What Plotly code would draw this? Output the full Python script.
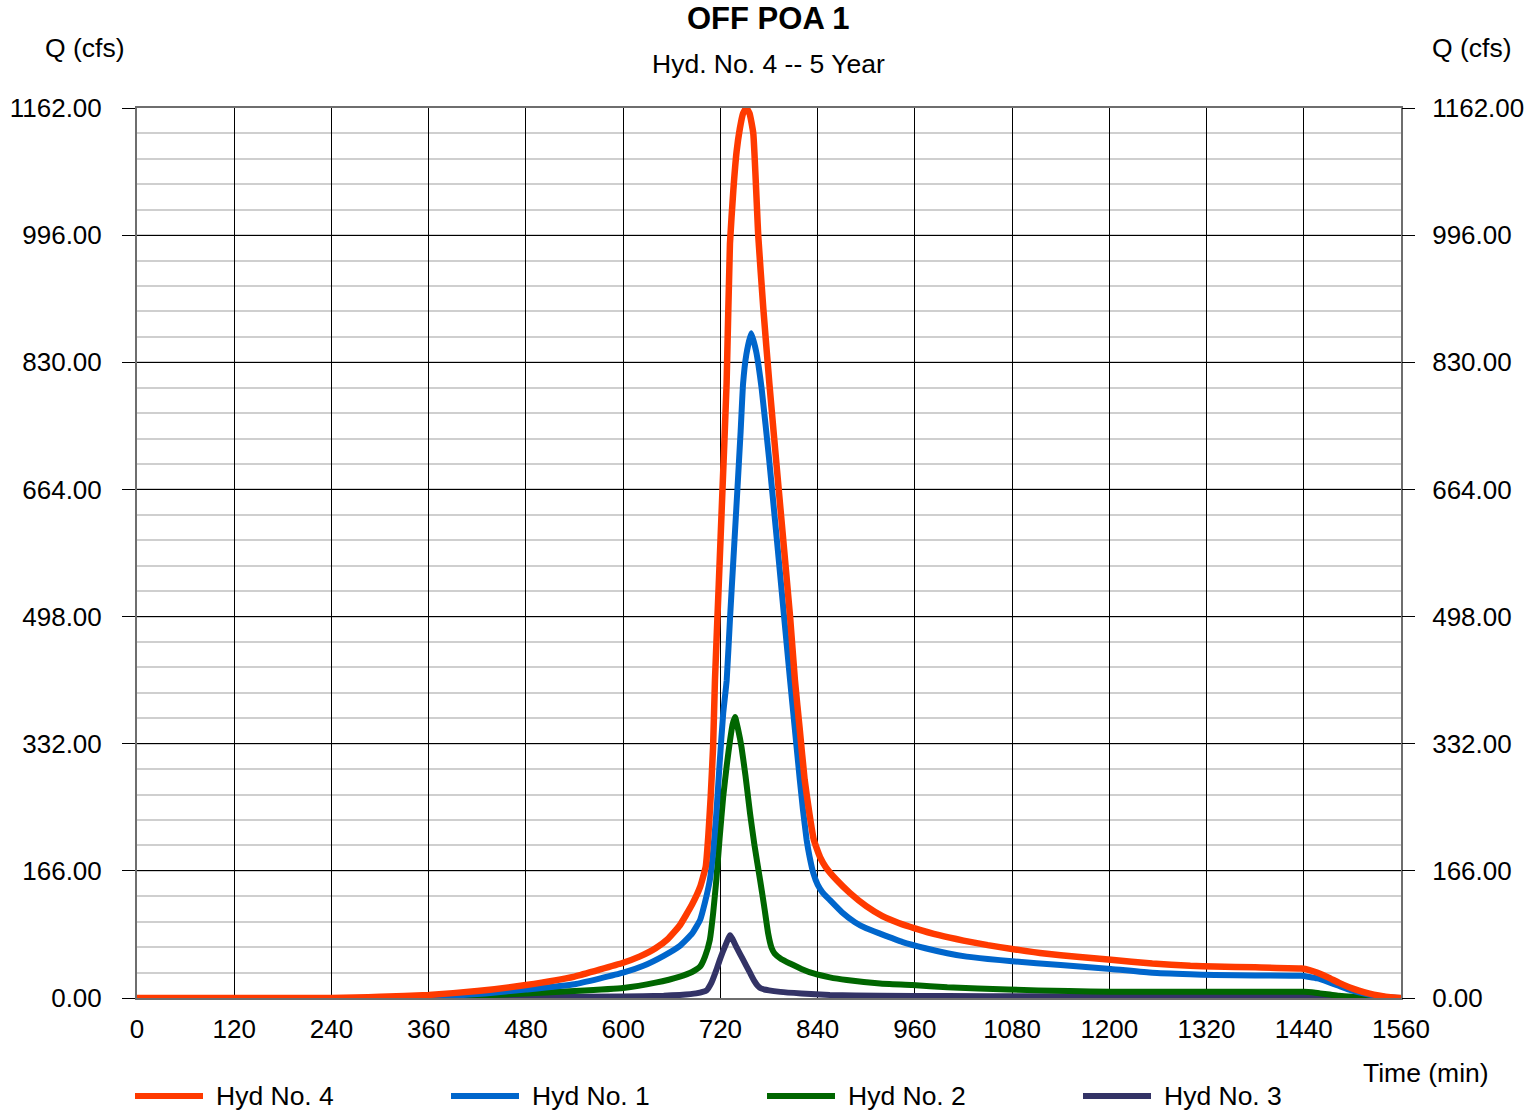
import plotly.graph_objects as go

# ---------------- data ----------------
series_names = ["Hyd No. 4", "Hyd No. 1", "Hyd No. 2", "Hyd No. 3"]
series_colors = ["#ff3a00", "#0066cc", "#006600", "#333366"]

t_hyd4 = [0, 240, 270, 300, 360, 420, 480, 540, 600, 620, 640, 655, 670, 685, 695, 702,
          705, 708, 711, 713.3, 718, 722.6, 727.7, 731.8, 736, 740, 744, 748, 752, 756,
          760.6, 766.8, 773, 780.4, 792, 806, 812, 818, 824, 830, 835, 839, 843, 850,
          863.5, 880, 900, 920, 940, 960, 990, 1020, 1050, 1080, 1120, 1160, 1202, 1253,
          1300, 1330, 1380, 1437, 1447, 1457, 1470, 1483, 1496, 1508, 1520, 1534, 1547, 1560]
q_hyd4 = [0, 0, 0.5, 1.5, 4, 9, 17, 28, 46, 54, 65, 77, 95, 122, 145, 172,
          210, 262, 328, 415, 540, 664, 803, 985, 1055, 1105, 1135, 1155, 1162, 1155,
          1129, 994, 900, 803, 664, 498, 415, 350, 285, 240, 208, 195, 184, 171,
          154, 137, 120, 107, 98, 91, 82, 75, 69, 64, 58, 54, 50, 45,
          42, 41, 40, 38.5, 36.5, 33, 27, 20, 14, 9.6, 6, 3, 1, 0]

t_hyd1 = [0, 270, 330, 390, 430, 480, 540, 600, 625, 650, 670, 685, 695, 701, 707, 711,
          715, 719, 723.5, 727.8, 732, 737, 741, 745, 748, 752, 758, 764, 771, 780, 790,
          798, 806, 812, 818, 822, 826.5, 830, 834.7, 840, 846, 855, 870, 886, 900, 917,
          945, 973, 1000, 1024, 1050, 1080, 1140, 1202, 1253, 1300, 1330, 1380, 1437,
          1447, 1457, 1470, 1483, 1496, 1508, 1525, 1544, 1560]
q_hyd1 = [0, 0, 1, 3, 6, 11, 18, 33, 42, 55, 68, 84, 102, 125, 154, 190,
          241, 305, 372, 415, 498, 590, 664, 740, 802, 840, 868, 845, 795, 705, 595,
          505, 415, 350, 285, 245, 206, 185, 163, 148, 138, 128, 112, 99, 91, 84,
          73, 65, 58.5, 54, 51, 48, 43, 38, 33, 31, 30, 29.5, 29,
          27.5, 25.6, 21, 16, 11, 7.4, 3.5, 1, 0]

t_hyd2 = [0, 300, 400, 480, 540, 600, 640, 670, 685, 695, 701, 707, 711, 715, 719, 723.5,
          728, 732, 735, 738, 742, 746, 751, 756.6, 762, 769, 774, 779, 783, 787, 795,
          806, 820, 835, 855, 876, 917, 957, 1000, 1075, 1150, 1202, 1330, 1440, 1450,
          1460, 1472, 1483, 1496, 1510, 1525, 1540, 1560]
q_hyd2 = [0, 0, 2, 6, 9, 13, 20, 28, 34, 41, 54, 76, 110, 154, 208, 263,
          305, 337, 357, 367, 350, 328, 290, 241, 200, 154, 120, 84, 66, 58, 51,
          45, 38, 32, 27, 23.5, 19, 17, 14, 11, 9, 8.3, 8, 8, 7.5,
          6, 4.5, 3, 2, 1, 0.5, 0, 0]

t_hyd3 = [0, 400, 480, 600, 650, 670, 690, 703, 709, 715, 720, 726, 732, 740, 748, 756,
          762, 766, 770, 780, 794, 820, 855, 917, 1000, 1100, 1200, 1330, 1440, 1455,
          1470, 1485, 1500, 1560]
q_hyd3 = [0, 0, 1, 2, 3, 4, 6, 10, 20, 36.5, 52, 68, 82, 66, 50, 34,
          22, 16, 12.5, 10, 8, 6, 4, 2.8, 2.5, 2.3, 2, 2, 2, 1.6,
          1.1, 0.6, 0.2, 0]

x_ticks = list(range(0, 1561, 120))
y_ticks = [0, 166, 332, 498, 664, 830, 996, 1162]

title_text = "<b>OFF POA 1</b>"
subtitle_text = "Hyd. No. 4 -- 5 Year"
y_title = "Q (cfs)"
x_title = "Time (min)"

# ---------------- figure ----------------
FONT = "Liberation Sans, Arial, sans-serif"
TICK_SIZE = 26
TEXT_SIZE = 26.5
fig = go.Figure()

series_t = [t_hyd4, t_hyd1, t_hyd2, t_hyd3]
series_q = [q_hyd4, q_hyd1, q_hyd2, q_hyd3]
# draw order: Hyd 3, Hyd 2, Hyd 1, then Hyd 4 on top (on the overlaying axis)
for idx in [3, 2, 1, 0]:
    fig.add_trace(go.Scatter(
        x=series_t[idx], y=series_q[idx], mode="lines", name=series_names[idx],
        line=dict(color=series_colors[idx], width=6.5 if idx == 0 else 6,
                  shape="spline", smoothing=0.4),
        yaxis="y2" if idx == 0 else "y", showlegend=False,
        hoverinfo="x+y+name"))

ymax = y_ticks[-1]
common_y = dict(
    range=[0, ymax], tickmode="array", tickvals=y_ticks,
    ticktext=[f"{v:.2f}" for v in y_ticks],
    ticks="outside", ticklen=13, tickcolor="#000000", tickwidth=1,
    tickfont=dict(family=FONT, size=TICK_SIZE, color="#000000"),
    zeroline=False, automargin=False,
)

fig.update_layout(
    width=1527, height=1114, autosize=False,
    margin=dict(l=137, r=126, t=108, b=116, autoexpand=False),
    paper_bgcolor="white", plot_bgcolor="white",
    font=dict(family=FONT, color="#000000"),
    showlegend=False,
    xaxis=dict(
        range=[0, 1560], tickmode="array", tickvals=x_ticks,
        ticktext=[str(v) for v in x_ticks], automargin=False,
        showgrid=True, gridcolor="#000000", gridwidth=1,
        zeroline=False, ticks="", ticklabelstandoff=7,
        tickfont=dict(family=FONT, size=TICK_SIZE, color="#000000"),
        showline=True, linecolor="#6e6e6e", linewidth=2, mirror=True,
    ),
    yaxis=dict(
        **common_y, side="left", ticklabelstandoff=15,
        showgrid=True, gridcolor="#000000", gridwidth=1,
        minor=dict(dtick=33.2, tick0=0, showgrid=True, gridcolor="#cfcfcf", gridwidth=1.5),
        showline=True, linecolor="#6e6e6e", linewidth=2, mirror=True,
    ),
    yaxis2=dict(
        **common_y, side="right", overlaying="y", showgrid=False,
        ticklabelstandoff=12, showline=False,
    ),
)

annos = [
    dict(text=title_text, x=0.4995, y=(998 - 19) / 890, font=dict(size=31, family=FONT)),
    dict(text=subtitle_text, x=0.4995, y=(998 - 64) / 890, font=dict(size=TEXT_SIZE, family=FONT)),
    dict(text=y_title, x=(84.5 - 137) / 1264, y=(998 - 48) / 890, font=dict(size=TEXT_SIZE, family=FONT)),
    dict(text=y_title, x=(1472 - 137) / 1264, y=(998 - 48) / 890, font=dict(size=TEXT_SIZE, family=FONT)),
    dict(text=x_title, x=(1426 - 137) / 1264, y=(998 - 1073) / 890, font=dict(size=TEXT_SIZE, family=FONT)),
]
for a in annos:
    fig.add_annotation(xref="paper", yref="paper", xanchor="center", yanchor="middle",
                       showarrow=False, **a)

# custom legend (long line samples like the reference)
legend_y = (998 - 1096) / 890
for k, name in enumerate(series_names):
    x0px = 135 + 316 * k
    fig.add_shape(type="line", xref="paper", yref="paper",
                  x0=(x0px - 137) / 1264, x1=(x0px + 68 - 137) / 1264,
                  y0=legend_y, y1=legend_y,
                  line=dict(color=series_colors[k], width=6))
    fig.add_annotation(xref="paper", yref="paper", x=(x0px + 79 - 137) / 1264, y=legend_y,
                       xanchor="left", yanchor="middle", showarrow=False, text=name,
                       font=dict(size=TEXT_SIZE, family=FONT))

fig.write_html("out.html", config={"displayModeBar": False},
               post_script="document.body.style.margin='0';document.body.style.overflow='hidden';")
